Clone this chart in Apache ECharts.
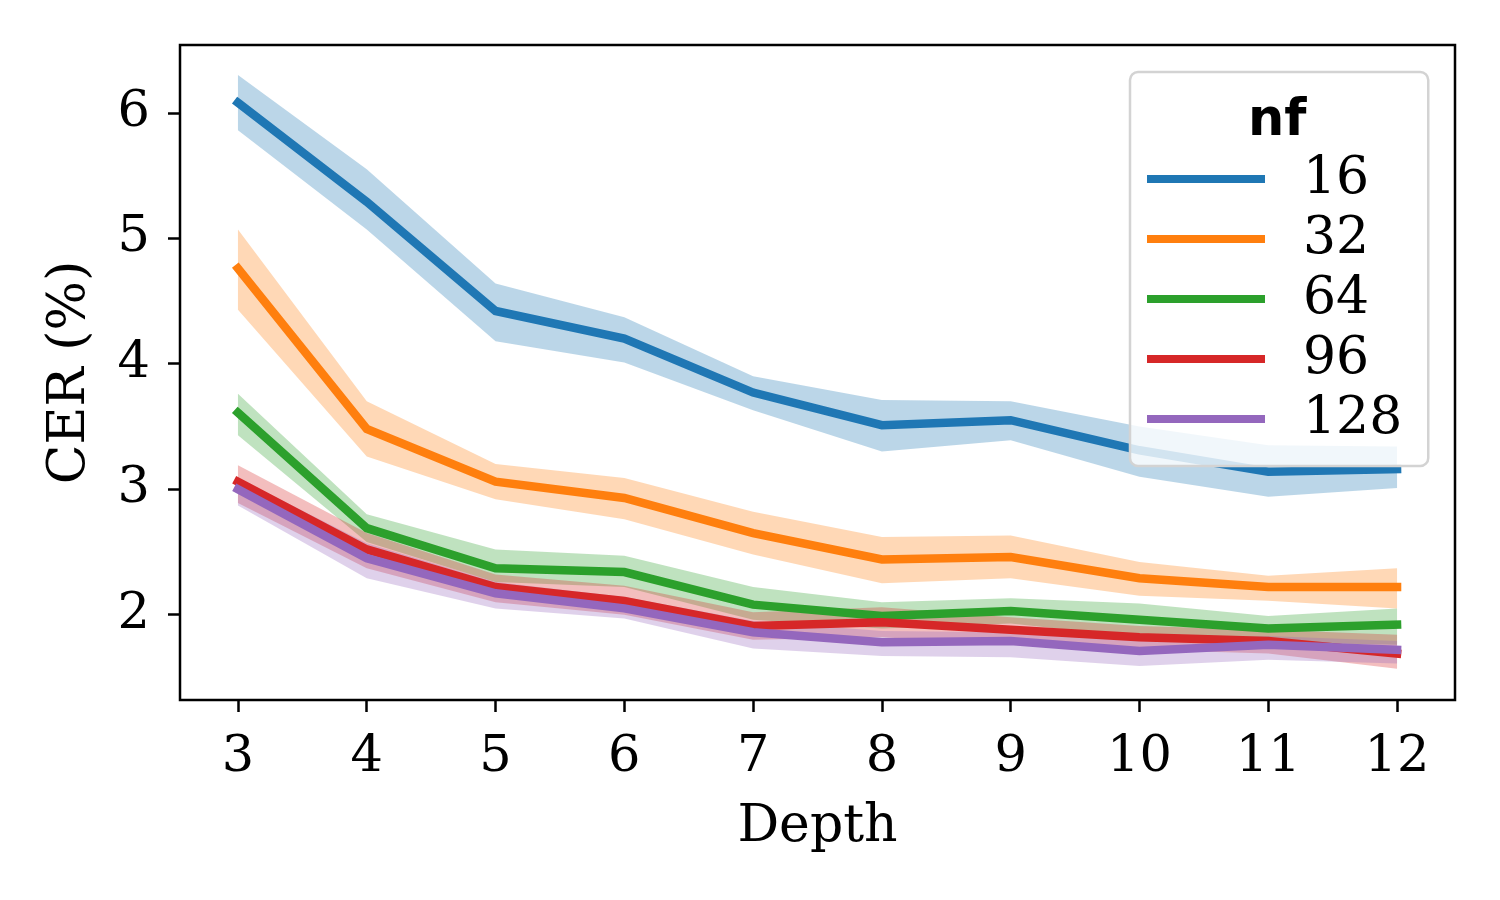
<!DOCTYPE html>
<html>
<head>
<meta charset="utf-8">
<script src="https://cdn.jsdelivr.net/npm/echarts@6/dist/echarts.min.js"></script>
<style>
  html, body { margin: 0; padding: 0; background: #fff; }
  #chart { width: 1500px; height: 900px; }
</style>
</head>
<body>
<div id="chart"></div>
<script>
// x categories (Depth) and tick labels
var depth = [3, 4, 5, 6, 7, 8, 9, 10, 11, 12];
var yTicks = [2, 3, 4, 5, 6];

// mean CER per nf, with lower / upper edge of the confidence band
var nf16 = [6.08, 5.29, 4.42, 4.20, 3.77, 3.51, 3.55, 3.31, 3.14, 3.16];
var nf16Lo = [5.86, 5.07, 4.18, 4.01, 3.63, 3.30, 3.39, 3.10, 2.94, 3.01];
var nf16Hi = [6.30, 5.55, 4.64, 4.37, 3.90, 3.71, 3.70, 3.50, 3.35, 3.34];

var nf32 = [4.76, 3.48, 3.06, 2.93, 2.65, 2.44, 2.46, 2.29, 2.22, 2.22];
var nf32Lo = [4.43, 3.26, 2.92, 2.76, 2.48, 2.25, 2.29, 2.15, 2.11, 2.05];
var nf32Hi = [5.07, 3.70, 3.20, 3.09, 2.82, 2.62, 2.63, 2.42, 2.31, 2.37];

var nf64 = [3.61, 2.69, 2.37, 2.34, 2.08, 1.99, 2.03, 1.96, 1.89, 1.92];
var nf64Lo = [3.43, 2.58, 2.26, 2.22, 1.96, 1.89, 1.93, 1.82, 1.78, 1.76];
var nf64Hi = [3.76, 2.80, 2.52, 2.47, 2.22, 2.10, 2.13, 2.09, 1.99, 2.05];

var nf96 = [3.06, 2.52, 2.22, 2.11, 1.91, 1.94, 1.88, 1.82, 1.79, 1.69];
var nf96Lo = [2.89, 2.37, 2.10, 2.00, 1.80, 1.82, 1.76, 1.72, 1.69, 1.57];
var nf96Hi = [3.19, 2.65, 2.32, 2.23, 2.02, 2.06, 1.98, 1.91, 1.88, 1.84];

var nf128 = [3.00, 2.45, 2.17, 2.05, 1.86, 1.78, 1.79, 1.71, 1.76, 1.72];
var nf128Lo = [2.87, 2.29, 2.05, 1.97, 1.73, 1.67, 1.66, 1.59, 1.64, 1.61];
var nf128Hi = [3.09, 2.57, 2.26, 2.14, 1.95, 1.87, 1.86, 1.79, 1.83, 1.79];

var names = ['16', '32', '64', '96', '128'];
var means = [nf16, nf32, nf64, nf96, nf128];
var lows = [nf16Lo, nf32Lo, nf64Lo, nf96Lo, nf128Lo];
var highs = [nf16Hi, nf32Hi, nf64Hi, nf96Hi, nf128Hi];
var colors = ['#1f77b4', '#ff7f0e', '#2ca02c', '#d62728', '#9467bd'];
var bandColors = ['rgba(31,119,180,0.3)', 'rgba(255,127,14,0.3)', 'rgba(44,160,44,0.3)',
                  'rgba(214,39,40,0.3)', 'rgba(148,103,189,0.3)'];

var serif = 'DejaVu Serif';

var pairs = function (ys) {
    return depth.map(function (d, i) { return [d, ys[i]]; });
};

var series = [];
// confidence bands: one polygon per nf, corners mapped with api.coord
names.forEach(function (n, k) {
    var lo = lows[k], hi = highs[k];
    series.push({
        name: 'band' + n, type: 'custom', silent: true, z: 1,
        data: depth.map(function (d, i) { return [d, lo[i], hi[i]]; }),
        encode: { x: 0, y: [1, 2] },
        renderItem: function (params, api) {
            if (params.dataIndex !== 0) return null;
            var top = depth.map(function (d, i) { return api.coord([d, hi[i]]); });
            var bot = depth.map(function (d, i) { return api.coord([d, lo[i]]); }).reverse();
            return {
                type: 'polygon',
                shape: { points: top.concat(bot) },
                style: { fill: bandColors[k] }
            };
        }
    });
});
// mean lines on top
names.forEach(function (n, k) {
    series.push({
        name: n, type: 'line', data: pairs(means[k]),
        showSymbol: false, z: 2, color: colors[k],
        lineStyle: { width: 8.5, color: colors[k], cap: 'square', join: 'miter' }
    });
});

var chart = echarts.init(document.getElementById('chart'));
chart.setOption({
    animation: false,
    backgroundColor: '#fff',
    grid: {
        left: 180, right: 45, top: 45, bottom: 200,
        show: true, borderColor: '#000', borderWidth: 2.5, backgroundColor: 'transparent'
    },
    xAxis: {
        type: 'value', min: 2.55, max: 12.45,
        name: 'Depth', nameLocation: 'middle', nameGap: 101,
        nameTextStyle: { fontFamily: serif, fontSize: 52, color: '#000' },
        axisLine: { show: false },
        axisTick: { show: true, length: 12, lineStyle: { color: '#000', width: 2.5 }, customValues: depth },
        axisLabel: { fontFamily: serif, fontSize: 51, color: '#000', margin: 32, customValues: depth },
        splitLine: { show: false }
    },
    yAxis: {
        type: 'value', min: 1.32, max: 6.54,
        name: 'CER (%)', nameLocation: 'middle', nameGap: 84,
        nameTextStyle: { fontFamily: serif, fontSize: 52, color: '#000' },
        axisLine: { show: false },
        axisTick: { show: true, length: 12, lineStyle: { color: '#000', width: 2.5 }, customValues: yTicks },
        axisLabel: { fontFamily: serif, fontSize: 51, color: '#000', margin: 30, customValues: yTicks },
        splitLine: { show: false }
    },
    legend: {
        data: names,
        orient: 'vertical',
        left: 1130, top: 72,
        padding: [77, 26, 17, 17],
        itemGap: 0,
        itemWidth: 118, itemHeight: 8,
        icon: 'rect',
        backgroundColor: 'rgba(255,255,255,0.8)',
        borderColor: '#d3d3d3', borderWidth: 2.5, borderRadius: 8,
        textStyle: { fontFamily: serif, fontSize: 52, color: '#000', lineHeight: 60, padding: [0, 0, 0, 33] },
        selectedMode: false
    },
    graphic: [{
        type: 'text', left: 1248, top: 96, z: 100,
        style: { text: 'nf', fontFamily: 'DejaVu Sans', fontWeight: 'bold', fontSize: 51, fill: '#000' }
    }],
    series: series
});
</script>
</body>
</html>
